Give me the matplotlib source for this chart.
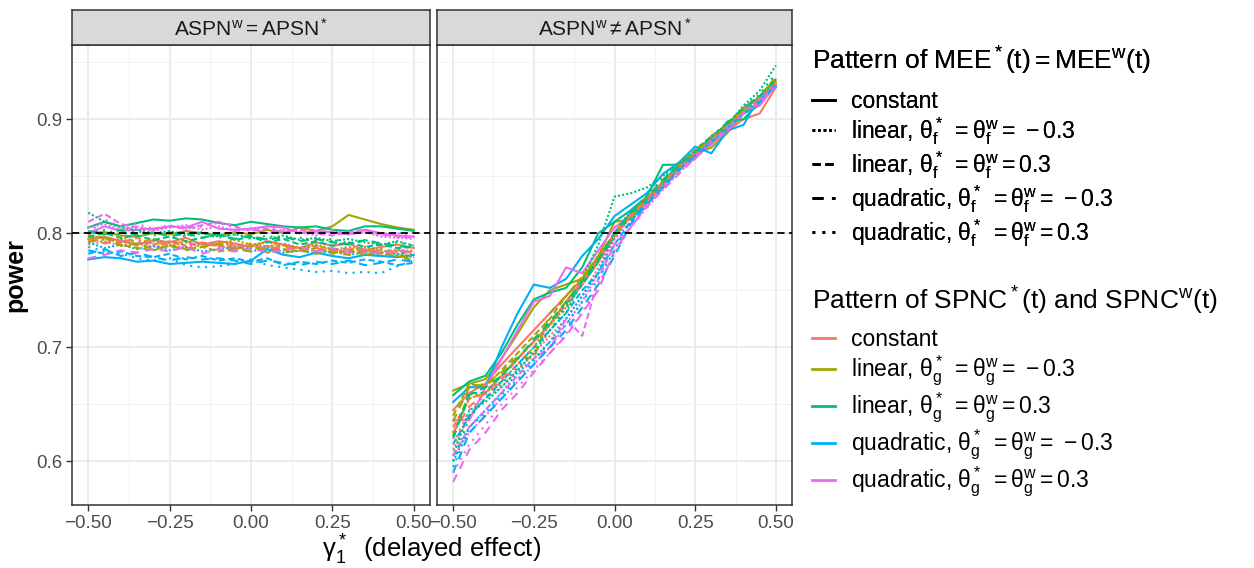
#!/usr/bin/env python3
import numpy as np
import matplotlib
matplotlib.use("Agg")
import matplotlib.pyplot as plt
from matplotlib.lines import Line2D

plt.rcParams["font.family"] = ["Liberation Sans", "DejaVu Sans"]
plt.rcParams["mathtext.fontset"] = "custom"
plt.rcParams["mathtext.rm"] = "Liberation Sans"
plt.rcParams["mathtext.it"] = "Liberation Sans:italic"
plt.rcParams["mathtext.bf"] = "Liberation Sans:bold"

# -------------------------------------------------
# data
# -------------------------------------------------
gamma = [-0.50, -0.45, -0.40, -0.35, -0.30, -0.25, -0.20, -0.15, -0.10, -0.05, 0.00,
         0.05, 0.10, 0.15, 0.20, 0.25, 0.30, 0.35, 0.40, 0.45, 0.50]

facets = ["$\\mathrm{ASPN^w = APSN^*}$", "$\\mathrm{ASPN^w \\neq APSN^*}$"]

mee_labels = ["constant",
              "linear, $\\mathrm{\\theta_f^*\\ = \\theta_f^w = \\,-0.3}$",
              "linear, $\\mathrm{\\theta_f^*\\ = \\theta_f^w = 0.3}$",
              "quadratic, $\\mathrm{\\theta_f^*\\ = \\theta_f^w = \\,-0.3}$",
              "quadratic, $\\mathrm{\\theta_f^*\\ = \\theta_f^w = 0.3}$"]
spnc_labels = ["constant",
               "linear, $\\mathrm{\\theta_g^*\\ = \\theta_g^w = \\,-0.3}$",
               "linear, $\\mathrm{\\theta_g^*\\ = \\theta_g^w = 0.3}$",
               "quadratic, $\\mathrm{\\theta_g^*\\ = \\theta_g^w = \\,-0.3}$",
               "quadratic, $\\mathrm{\\theta_g^*\\ = \\theta_g^w = 0.3}$"]

# rows: SPNC pattern (constant, lin -0.3, lin 0.3, quad -0.3, quad 0.3)
eq_constant = [
    [0.795, 0.797, 0.793, 0.790, 0.794, 0.792, 0.796, 0.790, 0.793, 0.791, 0.788, 0.793, 0.790, 0.787, 0.792, 0.789, 0.791, 0.785, 0.788, 0.790, 0.787],
    [0.800, 0.801, 0.798, 0.797, 0.800, 0.799, 0.802, 0.800, 0.798, 0.801, 0.799, 0.803, 0.800, 0.805, 0.802, 0.806, 0.816, 0.812, 0.808, 0.805, 0.803],
    [0.805, 0.810, 0.806, 0.809, 0.812, 0.811, 0.813, 0.812, 0.809, 0.807, 0.810, 0.808, 0.806, 0.805, 0.806, 0.803, 0.802, 0.806, 0.806, 0.804, 0.802],
    [0.777, 0.779, 0.778, 0.775, 0.776, 0.773, 0.774, 0.775, 0.774, 0.773, 0.776, 0.786, 0.781, 0.779, 0.783, 0.780, 0.778, 0.781, 0.780, 0.779, 0.781],
    [0.800, 0.806, 0.802, 0.803, 0.804, 0.806, 0.805, 0.810, 0.804, 0.803, 0.804, 0.806, 0.805, 0.800, 0.802, 0.801, 0.799, 0.803, 0.800, 0.798, 0.797],
]
eq_lin_neg = [
    [0.790, 0.793, 0.789, 0.791, 0.788, 0.790, 0.787, 0.791, 0.789, 0.786, 0.790, 0.788, 0.791, 0.787, 0.789, 0.785, 0.788, 0.786, 0.783, 0.786, 0.784],
    [0.796, 0.792, 0.795, 0.790, 0.793, 0.789, 0.792, 0.788, 0.791, 0.794, 0.790, 0.792, 0.789, 0.787, 0.790, 0.786, 0.784, 0.788, 0.785, 0.782, 0.779],
    [0.818, 0.810, 0.805, 0.803, 0.800, 0.802, 0.798, 0.801, 0.797, 0.799, 0.796, 0.795, 0.798, 0.794, 0.796, 0.793, 0.795, 0.792, 0.790, 0.793, 0.789],
    [0.792, 0.787, 0.790, 0.786, 0.789, 0.785, 0.788, 0.784, 0.786, 0.788, 0.784, 0.787, 0.783, 0.785, 0.782, 0.784, 0.781, 0.783, 0.780, 0.782, 0.779],
    [0.805, 0.808, 0.803, 0.806, 0.802, 0.805, 0.807, 0.803, 0.806, 0.802, 0.804, 0.800, 0.803, 0.801, 0.798, 0.802, 0.799, 0.801, 0.797, 0.796, 0.795],
]
eq_lin_pos = [
    [0.798, 0.795, 0.792, 0.796, 0.790, 0.793, 0.789, 0.792, 0.788, 0.790, 0.786, 0.789, 0.785, 0.788, 0.784, 0.786, 0.783, 0.785, 0.782, 0.785, 0.783],
    [0.795, 0.797, 0.790, 0.787, 0.785, 0.789, 0.786, 0.788, 0.784, 0.786, 0.789, 0.783, 0.786, 0.784, 0.787, 0.782, 0.785, 0.781, 0.783, 0.780, 0.776],
    [0.797, 0.800, 0.796, 0.798, 0.794, 0.797, 0.793, 0.796, 0.799, 0.794, 0.797, 0.792, 0.795, 0.790, 0.793, 0.789, 0.792, 0.788, 0.790, 0.787, 0.788],
    [0.785, 0.782, 0.784, 0.780, 0.779, 0.782, 0.777, 0.780, 0.776, 0.778, 0.775, 0.778, 0.772, 0.775, 0.773, 0.776, 0.774, 0.777, 0.775, 0.772, 0.774],
    [0.810, 0.817, 0.808, 0.805, 0.803, 0.806, 0.804, 0.807, 0.810, 0.806, 0.802, 0.804, 0.801, 0.803, 0.800, 0.798, 0.801, 0.803, 0.799, 0.797, 0.796],
]
eq_quad_neg = [
    [0.795, 0.791, 0.794, 0.789, 0.792, 0.790, 0.793, 0.788, 0.791, 0.787, 0.790, 0.786, 0.789, 0.785, 0.787, 0.784, 0.786, 0.783, 0.785, 0.782, 0.784],
    [0.792, 0.796, 0.789, 0.791, 0.786, 0.789, 0.785, 0.788, 0.790, 0.786, 0.784, 0.787, 0.783, 0.785, 0.782, 0.784, 0.781, 0.785, 0.782, 0.780, 0.778],
    [0.802, 0.799, 0.803, 0.798, 0.801, 0.797, 0.800, 0.796, 0.799, 0.795, 0.798, 0.794, 0.797, 0.793, 0.795, 0.792, 0.790, 0.794, 0.791, 0.789, 0.787],
    [0.782, 0.786, 0.780, 0.783, 0.779, 0.776, 0.779, 0.777, 0.778, 0.776, 0.773, 0.776, 0.774, 0.772, 0.775, 0.773, 0.776, 0.772, 0.774, 0.777, 0.775],
    [0.778, 0.781, 0.785, 0.783, 0.786, 0.784, 0.788, 0.782, 0.786, 0.784, 0.787, 0.783, 0.785, 0.788, 0.784, 0.787, 0.783, 0.786, 0.782, 0.785, 0.783],
]
eq_quad_pos = [
    [0.793, 0.796, 0.791, 0.794, 0.790, 0.793, 0.789, 0.792, 0.789, 0.787, 0.790, 0.786, 0.789, 0.785, 0.788, 0.784, 0.787, 0.784, 0.786, 0.783, 0.785],
    [0.799, 0.794, 0.797, 0.792, 0.795, 0.791, 0.794, 0.790, 0.792, 0.789, 0.791, 0.788, 0.790, 0.786, 0.789, 0.785, 0.787, 0.783, 0.786, 0.784, 0.781],
    [0.800, 0.803, 0.799, 0.802, 0.798, 0.801, 0.797, 0.800, 0.796, 0.799, 0.795, 0.798, 0.794, 0.796, 0.793, 0.795, 0.791, 0.794, 0.790, 0.792, 0.789],
    [0.788, 0.784, 0.782, 0.778, 0.776, 0.778, 0.772, 0.770, 0.771, 0.773, 0.777, 0.772, 0.770, 0.768, 0.766, 0.767, 0.765, 0.766, 0.765, 0.771, 0.776],
    [0.800, 0.812, 0.806, 0.808, 0.804, 0.807, 0.803, 0.806, 0.809, 0.805, 0.803, 0.806, 0.802, 0.804, 0.800, 0.803, 0.799, 0.801, 0.798, 0.800, 0.797],
]

neq_constant = [
    [0.645, 0.660, 0.668, 0.685, 0.700, 0.715, 0.730, 0.745, 0.760, 0.775, 0.800, 0.818, 0.830, 0.845, 0.860, 0.867, 0.878, 0.890, 0.900, 0.905, 0.928],
    [0.662, 0.668, 0.672, 0.690, 0.712, 0.735, 0.750, 0.755, 0.760, 0.780, 0.810, 0.812, 0.828, 0.843, 0.855, 0.870, 0.875, 0.888, 0.905, 0.912, 0.932],
    [0.658, 0.670, 0.675, 0.695, 0.720, 0.742, 0.748, 0.752, 0.770, 0.800, 0.810, 0.820, 0.832, 0.860, 0.860, 0.868, 0.880, 0.898, 0.900, 0.915, 0.930],
    [0.652, 0.665, 0.665, 0.700, 0.730, 0.755, 0.752, 0.760, 0.780, 0.795, 0.815, 0.825, 0.835, 0.852, 0.862, 0.876, 0.870, 0.890, 0.895, 0.920, 0.928],
    [0.636, 0.636, 0.665, 0.690, 0.715, 0.740, 0.745, 0.770, 0.765, 0.785, 0.805, 0.815, 0.830, 0.845, 0.858, 0.865, 0.885, 0.895, 0.910, 0.912, 0.930],
]
neq_lin_neg = [
    [0.610, 0.640, 0.655, 0.665, 0.680, 0.695, 0.710, 0.725, 0.745, 0.770, 0.795, 0.815, 0.830, 0.840, 0.856, 0.868, 0.880, 0.890, 0.905, 0.915, 0.935],
    [0.625, 0.655, 0.660, 0.670, 0.685, 0.700, 0.720, 0.735, 0.755, 0.775, 0.800, 0.818, 0.825, 0.842, 0.860, 0.866, 0.880, 0.895, 0.905, 0.920, 0.935],
    [0.605, 0.645, 0.652, 0.665, 0.680, 0.695, 0.715, 0.730, 0.760, 0.790, 0.832, 0.835, 0.840, 0.850, 0.862, 0.870, 0.885, 0.895, 0.912, 0.925, 0.947],
    [0.600, 0.630, 0.645, 0.660, 0.678, 0.690, 0.705, 0.725, 0.745, 0.765, 0.800, 0.820, 0.830, 0.845, 0.860, 0.872, 0.885, 0.895, 0.910, 0.920, 0.935],
    [0.605, 0.625, 0.640, 0.655, 0.670, 0.685, 0.700, 0.720, 0.740, 0.765, 0.795, 0.810, 0.825, 0.840, 0.858, 0.870, 0.880, 0.890, 0.905, 0.918, 0.932],
]
neq_lin_pos = [
    [0.630, 0.655, 0.660, 0.675, 0.690, 0.705, 0.720, 0.740, 0.755, 0.775, 0.800, 0.815, 0.828, 0.845, 0.858, 0.870, 0.882, 0.895, 0.905, 0.915, 0.930],
    [0.640, 0.668, 0.665, 0.680, 0.695, 0.710, 0.725, 0.745, 0.762, 0.780, 0.798, 0.815, 0.830, 0.845, 0.860, 0.873, 0.885, 0.895, 0.910, 0.920, 0.937],
    [0.622, 0.660, 0.660, 0.675, 0.690, 0.705, 0.720, 0.738, 0.755, 0.775, 0.797, 0.815, 0.830, 0.845, 0.860, 0.870, 0.882, 0.895, 0.908, 0.918, 0.935],
    [0.615, 0.640, 0.655, 0.670, 0.685, 0.700, 0.715, 0.730, 0.750, 0.765, 0.790, 0.810, 0.828, 0.842, 0.857, 0.870, 0.880, 0.892, 0.905, 0.915, 0.930],
    [0.605, 0.630, 0.645, 0.660, 0.675, 0.690, 0.700, 0.725, 0.710, 0.760, 0.790, 0.805, 0.825, 0.840, 0.855, 0.868, 0.880, 0.893, 0.905, 0.918, 0.930],
]
neq_quad_neg = [
    [0.625, 0.648, 0.660, 0.672, 0.690, 0.705, 0.720, 0.740, 0.758, 0.778, 0.800, 0.815, 0.830, 0.845, 0.858, 0.870, 0.882, 0.894, 0.906, 0.918, 0.930],
    [0.635, 0.665, 0.668, 0.678, 0.692, 0.690, 0.730, 0.745, 0.760, 0.780, 0.800, 0.818, 0.832, 0.847, 0.860, 0.872, 0.884, 0.896, 0.908, 0.920, 0.934],
    [0.620, 0.658, 0.665, 0.675, 0.690, 0.707, 0.722, 0.740, 0.758, 0.777, 0.800, 0.818, 0.830, 0.846, 0.860, 0.871, 0.884, 0.896, 0.910, 0.920, 0.935],
    [0.590, 0.625, 0.640, 0.655, 0.670, 0.685, 0.700, 0.715, 0.735, 0.755, 0.780, 0.808, 0.825, 0.840, 0.855, 0.868, 0.880, 0.892, 0.905, 0.915, 0.930],
    [0.582, 0.610, 0.625, 0.645, 0.660, 0.678, 0.695, 0.710, 0.730, 0.750, 0.785, 0.805, 0.823, 0.838, 0.852, 0.866, 0.878, 0.890, 0.905, 0.915, 0.928],
]
neq_quad_pos = [
    [0.615, 0.645, 0.658, 0.670, 0.685, 0.700, 0.715, 0.735, 0.755, 0.775, 0.797, 0.815, 0.828, 0.842, 0.857, 0.870, 0.882, 0.894, 0.906, 0.918, 0.932],
    [0.625, 0.655, 0.662, 0.675, 0.690, 0.705, 0.720, 0.740, 0.760, 0.778, 0.800, 0.817, 0.830, 0.845, 0.858, 0.870, 0.883, 0.895, 0.908, 0.920, 0.935],
    [0.600, 0.638, 0.655, 0.668, 0.682, 0.698, 0.715, 0.735, 0.755, 0.776, 0.800, 0.818, 0.833, 0.848, 0.862, 0.873, 0.885, 0.897, 0.910, 0.922, 0.940],
    [0.595, 0.630, 0.642, 0.658, 0.672, 0.688, 0.705, 0.720, 0.740, 0.760, 0.785, 0.812, 0.826, 0.840, 0.856, 0.868, 0.880, 0.892, 0.905, 0.917, 0.930],
    [0.590, 0.615, 0.632, 0.650, 0.665, 0.680, 0.695, 0.712, 0.730, 0.755, 0.782, 0.806, 0.822, 0.838, 0.853, 0.866, 0.880, 0.892, 0.906, 0.917, 0.930],
]

target_power = 0.8

# -------------------------------------------------
# styles
# -------------------------------------------------
colors = ["#F8766D", "#A3A500", "#00BF7D", "#00B0F6", "#E76BF3"]
dashes = [None, (1.0, 1.0), (3.0, 1.6), (4.0, 3.0), (1.0, 2.6)]

fig = plt.figure(figsize=(12.54, 5.68), dpi=100)
W, H = 1254, 568

def px_axes(x0, x1, y0, y1):
    return fig.add_axes([x0 / W, 1 - y1 / H, (x1 - x0) / W, (y1 - y0) / H])

panels = [
    (px_axes(72, 430, 45, 505), [eq_constant, eq_lin_neg, eq_lin_pos, eq_quad_neg, eq_quad_pos]),
    (px_axes(437, 792, 45, 505), [neq_constant, neq_lin_neg, neq_lin_pos, neq_quad_neg, neq_quad_pos]),
]
strips = [px_axes(72, 430, 10, 45), px_axes(437, 792, 10, 45)]

for k, (ax, groups) in enumerate(panels):
    for ls_i, group in enumerate(groups):
        for c_i, vals in enumerate(group):
            line, = ax.plot(gamma, vals, color=colors[c_i], linewidth=1.5, zorder=3)
            if dashes[ls_i] is not None:
                line.set_dashes(dashes[ls_i])
    ax.axhline(target_power, color="black", linewidth=1.3, dashes=(4, 2.5), zorder=4)
    ax.set_xlim(-0.55, 0.55)
    ax.set_ylim(0.5617, 0.965)
    ax.set_xticks([-0.5, -0.25, 0, 0.25, 0.5])
    ax.set_xticklabels(["\u22120.50", "\u22120.25", "0.00", "0.25", "0.50"])
    ax.set_xticks([-0.375, -0.125, 0.125, 0.375], minor=True)
    ax.set_yticks([0.6, 0.7, 0.8, 0.9])
    ax.set_yticks([0.65, 0.75, 0.85, 0.95], minor=True)
    ax.grid(which="major", color="#EBEBEB", linewidth=1.4, zorder=0)
    ax.grid(which="minor", color="#F2F2F2", linewidth=0.7, zorder=0)
    ax.set_axisbelow(True)
    ax.tick_params(which="major", length=4, width=1, color="#333333",
                   labelsize=13.5, labelcolor="#4D4D4D", pad=3)
    ax.tick_params(which="minor", length=0)
    if k == 1:
        ax.tick_params(axis="y", which="major", left=False, labelleft=False)
    for sp in ax.spines.values():
        sp.set_color("#333333")
        sp.set_linewidth(1.1)

for s, label in zip(strips, facets):
    s.set_facecolor("#D9D9D9")
    s.set_xticks([])
    s.set_yticks([])
    for sp in s.spines.values():
        sp.set_color("#333333")
        sp.set_linewidth(1.1)
    s.text(0.5, 0.46, label, ha="center", va="center", fontsize=15, color="#1A1A1A",
           transform=s.transAxes)

panels[0][0].set_ylabel("power", fontsize=18, fontweight="bold", labelpad=6)
fig.text(432 / W, 1 - 550 / H, "$\\mathrm{\\gamma_1^*}$  (delayed effect)", ha="center",
         va="center", fontsize=18.5)

# -------------------------------------------------
# legends
# -------------------------------------------------
ls_handles = []
for d in dashes:
    h = Line2D([0], [0], color="black", linewidth=2)
    if d is not None:
        h.set_dashes(d)
    ls_handles.append(h)
col_handles = [Line2D([0], [0], color=c, linewidth=2) for c in colors]

leg1 = fig.legend(ls_handles, mee_labels, loc="upper left", bbox_to_anchor=(803 / W, 1 - 36 / H),
                  frameon=False, fontsize=16.5,
                  title="Pattern of MEE$^*$$\\mathrm{(t) = MEE^w(t)}$",
                  title_fontsize=19, handlelength=1.0, handletextpad=0.7,
                  labelspacing=0.1, alignment="left", borderaxespad=0)
leg2 = fig.legend(col_handles, spnc_labels, loc="upper left", bbox_to_anchor=(803 / W, 1 - 276 / H),
                  frameon=False, fontsize=16.5,
                  title="Pattern of SPNC$^*$$\\mathrm{(t)}$ and SPNC$\\mathrm{^w(t)}$",
                  title_fontsize=19, handlelength=1.0, handletextpad=0.7,
                  labelspacing=0.12, alignment="left", borderaxespad=0)
leg1._legend_box.sep = 9
leg2._legend_box.sep = 8
fig.add_artist(leg1)

fig.savefig("out.png", dpi=100)
print("Saved: out.png")
